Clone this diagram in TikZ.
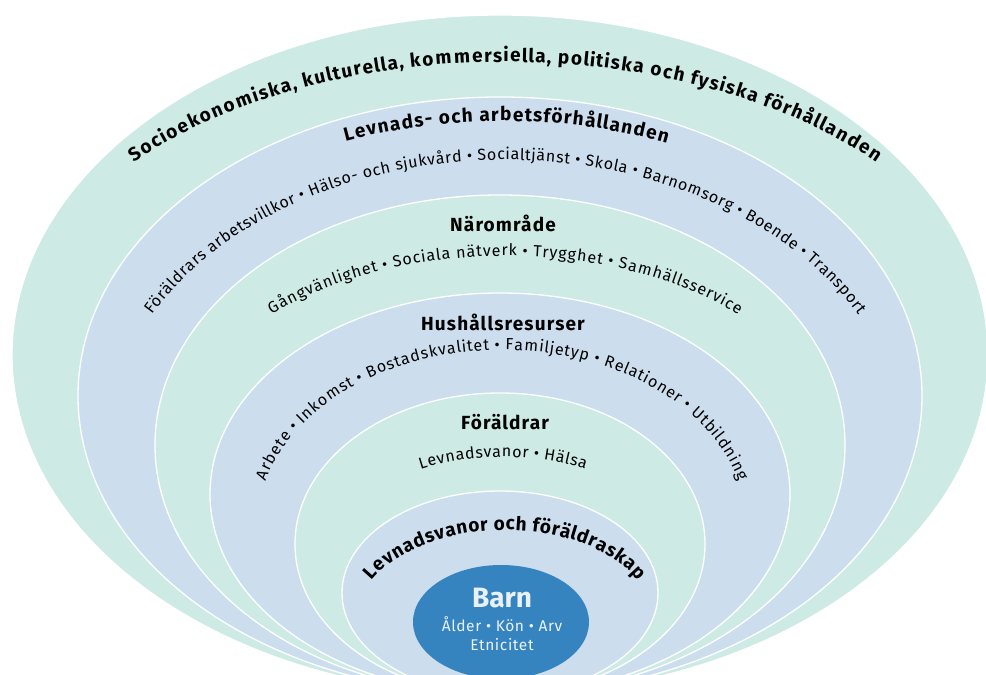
\documentclass[tikz,border=0pt]{standalone}
\usepackage{fontspec}
\setmainfont{Fira Sans}
\usetikzlibrary{decorations.text}

\definecolor{ringgreen}{HTML}{CDEBE4}
\definecolor{ringblue}{HTML}{CCDEED}
\definecolor{barnblue}{HTML}{3584BF}
\definecolor{barntext}{HTML}{EAF2F9}

\newcommand{\titlefont}{\bfseries\fontsize{19}{21}\selectfont}
\newcommand{\headfont}{\bfseries\fontsize{19}{21}\selectfont}
\newcommand{\itemfont}{\fontsize{16}{18}\selectfont}

\tikzset{
  ring/.style={draw=white, line width=1.3pt},
  heading/.style={font=\headfont\addfontfeature{LetterSpace=6}, inner sep=0pt, anchor=base},
  barnlabel/.style={text=barntext, anchor=base},
  arctext/.style 2 args={decorate, decoration={text effects along path, text={#2},
      text effects/.cd, text along path, fit text to path, characters={font=#1}}}
}

\begin{document}
\begin{tikzpicture}[x=1pt, y=1pt]
    \useasboundingbox (0,0) rectangle (986,675);
    \clip (0,0) rectangle (986,675);
    \fill[white] (0,0) rectangle (986,675);

    % rings, outside in
    \draw[ring, fill=ringgreen] (500,320) ellipse [x radius=488, y radius=340];
    \draw[ring, fill=ringblue]  (500,279) ellipse [x radius=422, y radius=299];
    \draw[ring, fill=ringgreen] (500,230) ellipse [x radius=345, y radius=250];
    \draw[ring, fill=ringblue]  (500,181) ellipse [x radius=290, y radius=201];
    \draw[ring, fill=ringgreen] (500,131) ellipse [x radius=205, y radius=151];
    \draw[ring, fill=ringblue]  (500,82)  ellipse [x radius=158, y radius=102];
    \fill[barnblue] (501,53) ellipse [x radius=88, y radius=57];

    % outer ring
    \path[arctext={\titlefont}{Socioekonomiska, kulturella, kommersiella, politiska och fysiska förhållanden}]
        (505,321) ++(139:492 and 292) arc[start angle=139, end angle=41, x radius=492, y radius=292];

    % levnads- och arbetsförhållanden
    \path[arctext={\headfont}{Levnads- och arbetsförhållanden}]
        (503,274) ++(112:420 and 280) arc[start angle=112, end angle=67, x radius=420, y radius=280];
    \path[arctext={\itemfont}{Föräldrars arbetsvillkor • Hälso- och sjukvård • Socialtjänst • Skola • Barnomsorg • Boende • Transport}]
        (505,223) ++(152:400 and 292) arc[start angle=152, end angle=28, x radius=400, y radius=292];

    % närområde
    \node[heading] (naromrade) at (503,443) {Närområde};
    \path[arctext={\itemfont}{Gångvänlighet • Sociala nätverk • Trygghet • Samhällsservice}]
        (505,219) ++(135:330 and 200) arc[start angle=135, end angle=45, x radius=330, y radius=200];

    % hushållsresurser
    \node[heading] (hushall) at (503,344) {Hushållsresurser};
    \path[arctext={\itemfont}{Arbete • Inkomst • Bostadskvalitet • Familjetyp • Relationer • Utbildning}]
        (502,148) ++(165:245 and 177) arc[start angle=165, end angle=15, x radius=245, y radius=177];

    % föräldrar
    \node[heading] (foraldrar) at (505,245) {Föräldrar};
    \path[arctext={\itemfont}{Levnadsvanor • Hälsa}]
        (503,118) ++(119:170 and 100) arc[start angle=119, end angle=61, x radius=170, y radius=100];

    % levnadsvanor och föräldraskap
    \path[arctext={\headfont}{Levnadsvanor och föräldraskap}]
        (505,55) ++(154:148 and 90) arc[start angle=154, end angle=26, x radius=148, y radius=90];

    % barn
    \node[barnlabel, font=\bfseries\fontsize{28}{30}\selectfont] (barn) at (502,67) {Barn};
    \node[barnlabel, font=\fontsize{15.5}{17}\selectfont\addfontfeature{LetterSpace=4}] (barnfakta) at (502,43) {Ålder • Kön • Arv};
    \node[barnlabel, font=\fontsize{15.5}{17}\selectfont\addfontfeature{LetterSpace=4}] (etnicitet) at (502,24) {Etnicitet};
\end{tikzpicture}
\end{document}
